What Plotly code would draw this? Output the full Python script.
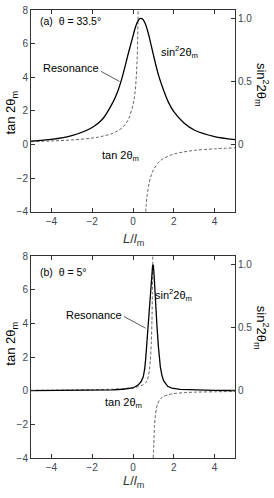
import plotly.graph_objects as go

# ---------------- Panel (a): theta = 33.5 deg ----------------
a_sin_x = [-5, -4, -3, -2, -1.5, -1, -0.75, -0.5, -0.25, 0, 0.1, 0.2, 0.3, 0.38,
           0.5, 0.6, 0.7, 0.8, 0.9, 1.0, 1.25, 1.5, 1.75, 2, 2.5, 3, 4, 5]
a_sin_y = [0.027, 0.040, 0.070, 0.135, 0.20, 0.33, 0.42, 0.55, 0.71, 0.86, 0.92, 0.965, 0.993, 1.0,
           0.99, 0.96, 0.91, 0.85, 0.78, 0.71, 0.55, 0.43, 0.33, 0.26, 0.17, 0.115, 0.063, 0.039]

a_tan1_x = [-5, -4, -3, -2, -1.5, -1, -0.75, -0.5, -0.25, 0, 0.1, 0.2, 0.25]
a_tan1_y = [0.17, 0.21, 0.27, 0.385, 0.49, 0.66, 0.81, 1.03, 1.44, 2.36, 3.1, 5.0, 8.0]
a_tan2_x = [0.62, 0.65, 0.7, 0.8, 0.9, 1.0, 1.25, 1.5, 2, 2.5, 3, 4, 5]
a_tan2_y = [-4.0, -3.55, -2.98, -2.25, -1.81, -1.51, -1.07, -0.83, -0.57, -0.44, -0.35, -0.255, -0.20]

# ---------------- Panel (b): theta = 5 deg ----------------
b_sin_x = [-5, -4, -3, -2, -1, -0.5, 0, 0.25, 0.4, 0.5, 0.57, 0.62, 0.67, 0.72, 0.77, 0.82,
           0.87, 0.92, 0.96, 0.98, 1.0, 1.04, 1.08, 1.13, 1.18, 1.25, 1.34, 1.42, 1.5, 1.7,
           1.9, 2.3, 3, 4, 5]
b_sin_y = [0.001, 0.0015, 0.002, 0.0035, 0.007, 0.012, 0.022, 0.045, 0.073, 0.11, 0.17, 0.25,
           0.37, 0.50, 0.62, 0.74, 0.85, 0.94, 0.99, 1.0, 0.99, 0.90, 0.76, 0.62, 0.50, 0.34,
           0.19, 0.12, 0.08, 0.035, 0.021, 0.011, 0.006, 0.003, 0.002]

b_tan1_x = [-5, -4, -3, -2, -1, -0.5, 0, 0.25, 0.5, 0.6, 0.7, 0.8, 0.85, 0.9, 0.93, 0.95, 0.97]
b_tan1_y = [0.03, 0.036, 0.045, 0.06, 0.09, 0.12, 0.18, 0.24, 0.36, 0.45, 0.62, 1.2, 1.8, 2.9,
            4.2, 5.8, 8.0]
b_tan2_x = [0.99, 1.02, 1.05, 1.1, 1.15, 1.2, 1.3, 1.4, 1.5, 1.75, 2, 2.5, 3, 4, 5]
b_tan2_y = [-4.0, -3.2, -2.1, -1.45, -1.05, -0.8, -0.55, -0.42, -0.34, -0.23, -0.17, -0.115,
            -0.085, -0.06, -0.045]

x_ticks = [-4, -2, 0, 2, 4]
left_ticks = [-4, -2, 0, 2, 4, 6, 8]
right_ticks = [0, 0.5, 1.0]
right_ticktext = ["0", "0.5", "1.0"]

FONT = "Arial, Liberation Sans, sans-serif"
TICKCOL = "#3d4750"
AXCOL = "#333333"
SOLID = dict(color="black", width=1.3)
DASH = dict(color="#666666", width=1, dash="3px,2px")

fig = go.Figure()
# panel a
fig.add_trace(go.Scatter(x=a_tan1_x, y=a_tan1_y, xaxis="x", yaxis="y", mode="lines",
                         line=dict(**DASH, shape="spline")))
fig.add_trace(go.Scatter(x=a_tan2_x, y=a_tan2_y, xaxis="x", yaxis="y", mode="lines",
                         line=dict(**DASH, shape="spline")))
fig.add_trace(go.Scatter(x=a_sin_x, y=a_sin_y, xaxis="x", yaxis="y2", mode="lines",
                         line=dict(**SOLID, shape="spline", smoothing=0.8)))
# panel b
fig.add_trace(go.Scatter(x=b_tan1_x, y=b_tan1_y, xaxis="x2", yaxis="y3", mode="lines",
                         line=dict(**DASH, shape="spline", smoothing=0.6)))
fig.add_trace(go.Scatter(x=b_tan2_x, y=b_tan2_y, xaxis="x2", yaxis="y3", mode="lines",
                         line=dict(**DASH, shape="spline", smoothing=0.6)))
fig.add_trace(go.Scatter(x=b_sin_x, y=b_sin_y, xaxis="x2", yaxis="y4", mode="lines",
                         line=dict(**SOLID)))

H_TOT = 453.0
dom_top = [(458 - 209) / H_TOT, 1.0]
dom_bot = [0.0, (458 - 254) / H_TOT]

def xax(anchor):
    return dict(range=[-5, 5], tickvals=x_ticks, ticks="inside", ticklen=4, tickcolor=AXCOL,
                showline=True, linecolor=AXCOL, linewidth=1, mirror="ticks", showgrid=False,
                zeroline=False, tickfont=dict(size=10, color=TICKCOL, family=FONT), anchor=anchor)

def ylax(dom, anchor):
    return dict(range=[-4, 8], tickvals=left_ticks, ticks="inside", ticklen=4, tickcolor=AXCOL,
                showline=True, linecolor=AXCOL, linewidth=1, showgrid=False, zeroline=False,
                tickfont=dict(size=10, color=TICKCOL, family=FONT), domain=dom, anchor=anchor)

def yrax(over, anchor):
    return dict(range=[-4 / 7.5, 8 / 7.5], tickvals=right_ticks, ticktext=right_ticktext,
                ticks="inside", ticklen=4, tickcolor=AXCOL, showline=True, linecolor=AXCOL,
                linewidth=1, showgrid=False, zeroline=False, side="right", overlaying=over,
                tickfont=dict(size=10, color=TICKCOL, family=FONT), anchor=anchor)

ann = []
def txt(x, y, text, xref, yref, size=11, xanchor="left", angle=0, color="black"):
    ann.append(dict(x=x, y=y, text=text, xref=xref, yref=yref, showarrow=False,
                    xanchor=xanchor, yanchor="middle", textangle=angle,
                    font=dict(size=size, family=FONT, color=color)))

# panel a labels
txt(-4.68, 7.35, "(a)  θ = 33.5°", "x", "y", size=10.5)
txt(1.27, 5.53, "sin<sup>2</sup>2θ<sub>m</sub>", "x", "y", size=11)
txt(-4.52, 4.53, "Resonance", "x", "y", size=11)
txt(-1.62, -0.71, "tan 2θ<sub>m</sub>", "x", "y", size=11)
# panel b labels
txt(-4.68, 7.06, "(b)  θ = 5°", "x2", "y3", size=10.5)
txt(0.98, 5.69, "sin<sup>2</sup>2θ<sub>m</sub>", "x2", "y3", size=11)
txt(-3.4, 4.51, "Resonance", "x2", "y3", size=11)
txt(-1.45, -0.71, "tan 2θ<sub>m</sub>", "x2", "y3", size=11)

# axis titles
txt(-0.093, 1.9, "tan 2θ<sub>m</sub>", "paper", "y", size=13, xanchor="center", angle=-90)
txt(-0.093, 2.8, "tan 2θ<sub>m</sub>", "paper", "y3", size=13, xanchor="center", angle=-90)
txt(1.132, 3.55, "sin<sup>2</sup>2θ<sub>m</sub>", "paper", "y", size=13, xanchor="center", angle=90)
txt(1.132, 3.75, "sin<sup>2</sup>2θ<sub>m</sub>", "paper", "y3", size=13, xanchor="center", angle=90)
txt(0.5, (458 - 237) / H_TOT, "<i>L</i>/<i>l</i><sub>m</sub>", "paper", "paper", size=13,
    xanchor="center", color="#333333")
txt(0.5, (458 - 482) / H_TOT, "<i>L</i>/<i>l</i><sub>m</sub>", "paper", "paper", size=13,
    xanchor="center", color="#333333")

shapes = [
    dict(type="line", xref="x", yref="y", x0=-1.57, y0=4.35, x1=-0.66, y1=3.75,
         line=dict(color="#333333", width=0.8)),
    dict(type="line", xref="x2", yref="y3", x0=-0.45, y0=4.42, x1=0.62, y1=3.72,
         line=dict(color="#333333", width=0.8)),
]

fig.update_layout(
    width=274, height=498,
    margin=dict(l=31, r=39, t=5, b=40),
    paper_bgcolor="white", plot_bgcolor="white",
    showlegend=False,
    xaxis=xax("y"), xaxis2=xax("y3"),
    yaxis=ylax(dom_top, "x"), yaxis2=yrax("y", "x"),
    yaxis3=ylax(dom_bot, "x2"), yaxis4=yrax("y3", "x2"),
    annotations=ann, shapes=shapes,
    font=dict(family=FONT),
)

fig.write_html("out.html", config={"displayModeBar": False},
               post_script="document.body.style.margin='0px';document.body.style.overflow='hidden';")
